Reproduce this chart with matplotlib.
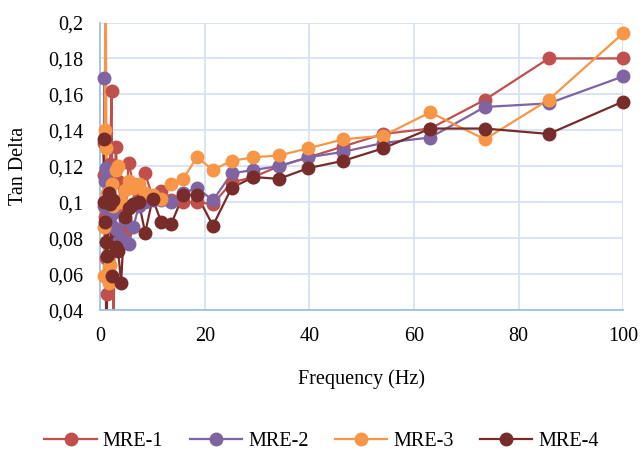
import matplotlib.pyplot as plt
from matplotlib.ticker import FuncFormatter, MultipleLocator

# frequency sweep (Hz)
freq = [0.63, 0.74, 0.86, 1.0, 1.17, 1.36, 1.58, 1.85, 2.15, 2.51, 2.93, 3.41,
        3.98, 4.64, 5.41, 6.31, 7.36, 8.58, 10.0, 11.66, 13.59, 15.85, 18.48,
        21.54, 25.12, 29.29, 34.15, 39.81, 46.42, 54.12, 63.10, 73.56, 85.77, 100.0]

mre1 = [0.133, 0.115, 0.092, 0.087, 0.069, 0.049, 0.104, 0.121, 0.162, 0.020,
        0.131, 0.112, 0.098, 0.084, 0.122, 0.110, 0.103, 0.116, 0.103, 0.106,
        0.101, 0.100, 0.100, 0.099, 0.111, 0.114, 0.120, 0.125, 0.131, 0.138,
        0.141, 0.157, 0.180, 0.180]
mre2 = [0.098, 0.169, 0.112, 0.119, 0.118, 0.100, 0.099, 0.092, 0.087, 0.094,
        0.085, 0.078, 0.080, 0.090, 0.077, 0.086, 0.098, 0.100, 0.101, 0.101,
        0.100, 0.105, 0.108, 0.101, 0.116, 0.118, 0.120, 0.125, 0.128, 0.133,
        0.136, 0.153, 0.155, 0.170]
mre3 = [0.059, 0.086, 0.140, 0.260, 0.130, 0.105, 0.055, 0.065, 0.110, 0.098,
        0.118, 0.120, 0.100, 0.107, 0.112, 0.108, 0.110, 0.105, 0.104, 0.102,
        0.110, 0.113, 0.125, 0.118, 0.123, 0.125, 0.126, 0.130, 0.135, 0.137,
        0.150, 0.135, 0.157, 0.194]
mre4 = [0.135, 0.100, 0.089, 0.078, 0.010, 0.070, 0.105, 0.099, 0.059, 0.101,
        0.075, 0.073, 0.055, 0.092, 0.097, 0.099, 0.100, 0.083, 0.102, 0.089,
        0.088, 0.104, 0.104, 0.087, 0.108, 0.114, 0.113, 0.119, 0.123, 0.130,
        0.141, 0.141, 0.138, 0.156]

labels = ['MRE-1', 'MRE-2', 'MRE-3', 'MRE-4']
colors = ['#C0504D', '#8064A2', '#F79646', '#772C2A']

plt.rcParams['font.family'] = ['Liberation Serif', 'DejaVu Serif']

fig = plt.figure(figsize=(6.43, 4.5), dpi=100)
ax = fig.add_axes([0.156, 0.311, 0.813, 0.639])

ylo, yhi = 0.04, 0.2
for ys, lab, c in zip([mre1, mre2, mre3, mre4], labels, colors):
    ax.plot(freq, ys, color=c, lw=1.6, label=lab, zorder=2)
    # markers inside the value range are drawn unclipped, like the original
    inside = [(f, v) for f, v in zip(freq, ys) if ylo <= v <= yhi]
    ax.plot([p[0] for p in inside], [p[1] for p in inside], ls='none',
            marker='o', markersize=9, color=c, clip_on=False, zorder=3)

ax.set_xlim(0, 100)
ax.set_ylim(ylo, yhi)
ax.xaxis.set_major_locator(MultipleLocator(20))
ax.yaxis.set_major_locator(MultipleLocator(0.02))
ax.yaxis.set_major_formatter(FuncFormatter(lambda v, p: f"{v:.2f}".rstrip('0').replace('.', ',')))

ax.grid(True, color='#D6E3F3', lw=1.3)
ax.set_axisbelow(True)
for s in ['top', 'right']:
    ax.spines[s].set_visible(False)
for s in ['left', 'bottom']:
    ax.spines[s].set_color('#9DC3E6')
    ax.spines[s].set_linewidth(1.3)
ax.tick_params(length=0, labelsize=14.5, pad=12)

ax.set_xlabel('Frequency (Hz)', fontsize=14.5, labelpad=17)
ax.set_ylabel('Tan Delta', fontsize=14.5, labelpad=15)

handles = [plt.Line2D([], [], color=c, lw=1.6, marker='o', markersize=9)
           for c in colors]
fig.legend(handles, labels, loc='center', bbox_to_anchor=(0.5, 0.018), ncol=4,
           frameon=False, fontsize=14.5, handlelength=2.6, columnspacing=1.3,
           handletextpad=0.3)

plt.savefig('out.png', dpi=100)
